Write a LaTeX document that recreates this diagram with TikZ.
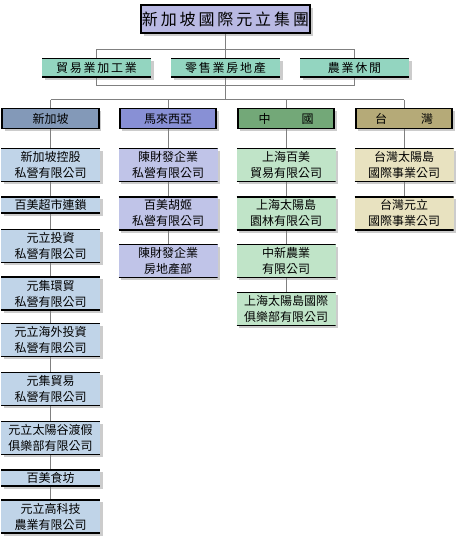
\documentclass[tikz,border=0pt]{standalone}
\usepackage{fontspec}
\setmainfont{Noto Sans CJK TC}
\usepackage{xcolor}
\usetikzlibrary{positioning, shadows, backgrounds}

\definecolor{titleblue}{HTML}{B9B9E3}
\definecolor{sectorgreen}{HTML}{93D5C0}
\definecolor{sgdark}{HTML}{8399B8}
\definecolor{mydark}{HTML}{8890D5}
\definecolor{cndark}{HTML}{73A878}
\definecolor{twdark}{HTML}{B5AA78}
\definecolor{sglight}{HTML}{C0D4E8}
\definecolor{mylight}{HTML}{C0C4E8}
\definecolor{cnlight}{HTML}{C0E4C8}
\definecolor{twlight}{HTML}{E8E2C0}
\definecolor{linkgray}{HTML}{808080}

\tikzset{
  boxshadow/.style={drop shadow={shadow xshift=2.5pt, shadow yshift=-2.5pt, opacity=0.4}},
  topbox/.style={draw=black, line width=2pt, fill=titleblue, boxshadow,
    minimum width=169pt, minimum height=28pt, inner sep=0pt,
    font=\fontsize{16}{18}\selectfont\addfontfeature{LetterSpace=18}},
  edgebox/.style={fill=#1, boxshadow, inner sep=0pt,
    path picture={\draw[black, line width=2pt]
      (path picture bounding box.north west) -- (path picture bounding box.north east)
      (path picture bounding box.south west) -- (path picture bounding box.south east);}},
  sectorbox/.style={edgebox=sectorgreen, minimum width=109pt, minimum height=19pt,
    font=\fontsize{12}{14}\selectfont\addfontfeature{LetterSpace=15}},
  regionbox/.style={draw=black, line width=1.6pt, fill=#1, boxshadow,
    minimum width=96.5pt, minimum height=20pt, inner sep=0pt,
    font=\fontsize{12}{14}\selectfont},
  unitbox/.style={edgebox=#1, minimum width=99pt, minimum height=33.5pt,
    align=center, font=\fontsize{12}{16}\selectfont},
  short/.style={minimum height=16.5pt},
  link/.style={draw=linkgray, line width=1pt},
}

\begin{document}
\begin{tikzpicture}[x=1pt, y=-1pt]

    \useasboundingbox (0,0) rectangle (460,545);

    % Group head
    \node[topbox] (group) at (225.5,19.5) {新加坡國際元立集團};

    % Business sectors
    \node[sectorbox] (trade) at (96.5,68) {貿易業加工業};
    \node[sectorbox] (retail) at (225.5,68) {零售業房地產};
    \node[sectorbox] (agri) at (354.5,68) {農業休閒};

    % Regions
    \node[regionbox=sgdark] (sg) at (50.5,118.5) {新加坡};
    \node[regionbox=mydark] (my) at (168,118.5) {馬來西亞};
    \node[regionbox=cndark] (cn) at (286,118.5) {中\hspace{31pt}國};
    \node[regionbox=twdark] (tw) at (404,118.5) {台\hspace{34pt}灣};

    % Singapore companies
    \node[unitbox=sglight] (sg1) at (50.5,165) {新加坡控股\\私營有限公司};
    \node[unitbox=sglight, short] (sg2) at (50.5,205) {百美超市連鎖};
    \node[unitbox=sglight] (sg3) at (50.5,246) {元立投資\\私營有限公司};
    \node[unitbox=sglight] (sg4) at (50.5,293.5) {元集環貿\\私營有限公司};
    \node[unitbox=sglight] (sg5) at (50.5,340) {元立海外投資\\私營有限公司};
    \node[unitbox=sglight] (sg6) at (50.5,389) {元集貿易\\私營有限公司};
    \node[unitbox=sglight] (sg7) at (50.5,438) {元立太陽谷渡假\\俱樂部有限公司};
    \node[unitbox=sglight, short] (sg8) at (50.5,478) {百美食坊};
    \node[unitbox=sglight] (sg9) at (50.5,516.5) {元立高科技\\農業有限公司};

    % Malaysia companies
    \node[unitbox=mylight] (my1) at (168,165) {陳財發企業\\私營有限公司};
    \node[unitbox=mylight] (my2) at (168,213.3) {百美胡姬\\私營有限公司};
    \node[unitbox=mylight] (my3) at (168,261) {陳財發企業\\房地產部};

    % China companies
    \node[unitbox=cnlight] (cn1) at (286,165) {上海百美\\貿易有限公司};
    \node[unitbox=cnlight] (cn2) at (286,213.3) {上海太陽島\\園林有限公司};
    \node[unitbox=cnlight] (cn3) at (286,261) {中新農業\\有限公司};
    \node[unitbox=cnlight] (cn4) at (286,309) {上海太陽島國際\\俱樂部有限公司};

    % Taiwan companies
    \node[unitbox=twlight] (tw1) at (404,165) {台灣太陽島\\國際事業公司};
    \node[unitbox=twlight] (tw2) at (404,213.3) {台灣元立\\國際事業公司};

    % Bus levels
    \coordinate (upbus) at (0,50);
    \coordinate (lowbus) at (0,86);
    \coordinate (hbus) at (0,100);

    \begin{scope}[on background layer]
        % Sector frame and trunk
        \draw[link] (trade |- upbus) -- (agri |- upbus) -- (agri |- lowbus)
                    -- (trade |- lowbus) -- cycle;
        \draw[link] (group) -- (retail |- hbus);

        % Regional bus
        \draw[link] (sg |- hbus) -- (tw |- hbus);
        \foreach \r in {sg,my,cn,tw}
            \draw[link] (\r |- hbus) -- (\r);

        % Company columns
        \draw[link] (sg) -- (sg9);
        \draw[link] (my) -- (my3);
        \draw[link] (cn) -- (cn4);
        \draw[link] (tw) -- (tw2);
    \end{scope}

\end{tikzpicture}
\end{document}
